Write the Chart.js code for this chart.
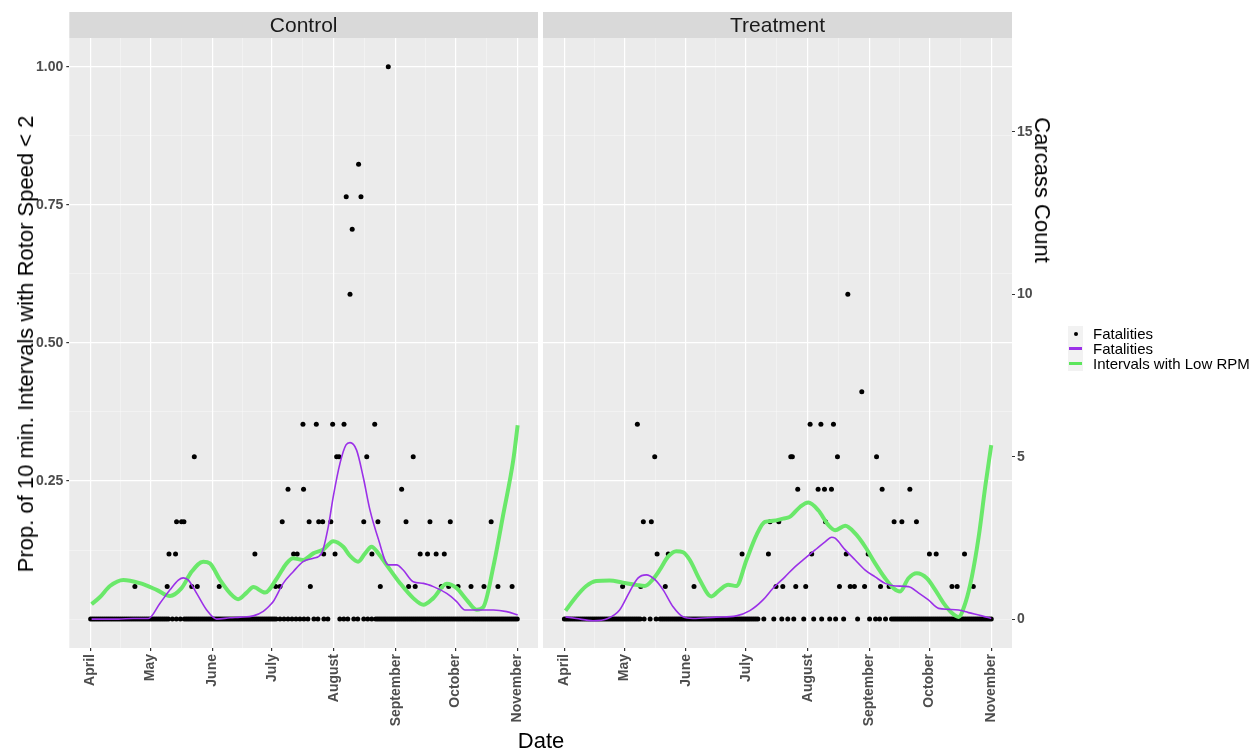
<!DOCTYPE html>
<html>
<head>
<meta charset="utf-8">
<script src="https://cdn.jsdelivr.net/npm/chart.js@4.4.1/dist/chart.umd.min.js"></script>
<style>
  body { margin: 0; background: #fff; width: 1257px; height: 751px; position: relative; overflow: hidden;
         font-family: "Liberation Sans", Arial, sans-serif; }
  canvas { position: absolute; left: 0; top: 0; }
  .axis-title { position: absolute; white-space: nowrap; font-size: 22px; color: #000; line-height: 1; }
  #legend { position: absolute; left: 1068px; top: 326px; font-size: 15px; color: #000; }
  #legend .row { height: 15px; line-height: 15px; display: flex; align-items: center; }
  #legend .key { width: 15px; height: 15px; background: #F2F2F2; margin-right: 10px; position: relative; }
  #legend .dot { position: absolute; left: 6px; top: 6px; width: 4px; height: 4px; border-radius: 50%; background: #000; }
  #legend .ln { position: absolute; left: 1px; top: 6px; width: 13px; height: 3px; }
</style>
</head>
<body>
<canvas id="control" width="1257" height="751"></canvas>
<canvas id="treatment" width="1257" height="751"></canvas>

<div class="axis-title" style="left:26px;top:344px;transform:translate(-50%,-50%) rotate(-90deg);">Prop. of 10 min. Intervals with Rotor Speed &lt; 2</div>
<div class="axis-title" style="left:1042px;top:190px;transform:translate(-50%,-50%) rotate(90deg);">Carcass Count</div>
<div class="axis-title" style="left:541px;top:741px;transform:translate(-50%,-50%);">Date</div>

<div id="legend">
  <div class="row"><span class="key"><i class="dot"></i></span>Fatalities</div>
  <div class="row"><span class="key"><i class="ln" style="background:#9B30E8"></i></span>Fatalities</div>
  <div class="row"><span class="key"><i class="ln" style="background:#5CE65C"></i></span>Intervals with Low RPM</div>
</div>

<script>
// x axis is day of year
const monthNames = ["April", "May", "June", "July", "August", "September", "October", "November"];
const monthDays = [91, 121, 152, 182, 213, 244, 274, 305];
const midMonthDays = [106, 136.5, 167, 197.5, 228.5, 259, 289.5];

const propTicks = [0, 0.125, 0.25, 0.375, 0.5, 0.625, 0.75, 0.875, 1];
const propLabels = { 0.25: "0.25", 0.5: "0.50", 0.75: "0.75", 1: "1.00" };
const countTicks = [0, 5, 10, 15];

// ---- Control ----
const controlPtDays = [113.2, 129.4, 130.3, 133.6, 134.1, 136.6, 137.8, 141.7, 143, 144.5, 155.5, 173.4,
  183.8, 186, 187.1, 190, 192.8, 194.6, 197.5, 197.8, 200.6, 201.2, 204.2, 205.4, 207.4, 207.9, 211.5,
  212.4, 213.6, 214.4, 215.6, 218.1, 219.2, 221.1, 222.2, 225.4, 226.6, 228, 229.5, 232.1, 233.5, 235.1,
  236.3, 240.3, 247, 249.2, 250.5, 252.8, 253.8, 256.3, 260, 261.2, 264.3, 266.9, 268.4, 270.6, 271.4,
  275.3, 281.8, 288.3, 291.9, 295.3, 302.4];
const controlPtCounts = [1, 1, 2, 2, 3, 3, 3, 1, 5, 1, 1, 2,
  1, 1, 3, 4, 2, 2, 6, 4, 3, 1, 6, 3, 3, 2, 3,
  6, 2, 5, 5, 6, 13, 10, 12, 14, 13, 3, 5, 2, 6, 3,
  1, 17, 4, 3, 1, 5, 1, 2, 2, 3, 2, 1, 2, 1, 3,
  1, 1, 1, 3, 1, 1];
const controlZeroDays = [91, 92, 93, 94, 95, 96, 97, 98, 99, 100, 101, 102, 103, 104, 105, 106, 107, 108, 109,
  110, 111, 112, 113, 114, 115, 116, 117, 118, 119, 120, 121, 122, 123, 124, 125, 126, 127, 128, 129, 130,
  132, 134, 136,
  138, 139, 140, 141, 142, 143, 144, 145, 146, 147, 148, 149, 150, 151, 152, 153, 154, 155, 156, 157, 158,
  159, 160, 161, 162, 163, 164, 165, 166, 167, 168, 169, 170, 171, 172, 173, 174, 175, 176, 177, 178, 179,
  180, 181, 182, 183, 184,
  186, 188, 190, 192, 194, 196, 198, 200, 203, 205, 208, 210, 216, 218, 220, 223, 225, 228, 230, 232,
  234, 235, 236, 237, 238, 239, 240, 241, 242, 243, 244, 245, 246, 247, 248, 249, 250, 251, 252, 253, 254,
  255, 256, 257, 258, 259, 260, 261, 262, 263, 264, 265, 266, 267, 268, 269, 270, 271, 272, 273, 274, 275,
  276, 277, 278, 279, 280, 281, 282, 283, 284, 285, 286, 287, 288, 289, 290, 291, 292, 293, 294, 295, 296,
  297, 298, 299, 300, 301, 302, 303, 304, 305];
const controlSmoothDays = [91.5, 105, 112.4, 119.9, 125.8, 130.8, 135, 137.5, 140, 144.2, 149.2, 154.2, 160.9,
  166, 172.6, 177.6, 181, 182.6, 187.6, 192.6, 197.6, 202.7, 206.9, 210.2, 212.7, 216.1, 219.1, 221.1, 224.4,
  227.7, 231.1, 235.2, 240.3, 244.5, 247.8, 252.8, 257.9, 262.9, 269.6, 274.6, 278.8, 284.6, 293, 299.7, 305.2];
const controlSmoothCounts = [0, 0, 0.02, 0.02, 0.49, 0.9, 1.2, 1.27, 1.2, 0.79, 0.28, 0, 0.04,
  0.06, 0.1, 0.24, 0.43, 0.54, 1.1, 1.46, 1.77, 1.87, 2.03, 2.84, 3.77, 4.8, 5.36, 5.43, 5.2,
  4.38, 3.36, 2.49, 1.67, 1.67, 1.51, 1.15, 1.1, 1.0, 0.79, 0.54, 0.28, 0.28, 0.28, 0.23, 0.13];
const controlRpmDays = [91.5, 95.7, 100.7, 107.4, 115.7, 124.1, 130.8, 136.6, 141.7, 147.5, 150.8, 155.9, 160.9,
  165, 169.3, 172.6, 178.5, 184.3, 189.3, 192.6, 197.6, 202.7, 207.7, 212.7, 217.7, 221, 225.2, 228.5, 231.9,
  235.5, 239.5, 246.2, 252.8, 257.9, 262.9, 269.6, 274.6, 279.6, 284.6, 288, 293, 298, 303, 305.2];
const controlRpmProps = [0.027, 0.04, 0.06, 0.071, 0.065, 0.053, 0.042, 0.056, 0.086, 0.104, 0.101, 0.071, 0.047,
  0.036, 0.048, 0.058, 0.048, 0.073, 0.101, 0.11, 0.107, 0.119, 0.126, 0.141, 0.131, 0.115, 0.104, 0.118, 0.131,
  0.118, 0.098, 0.065, 0.038, 0.026, 0.038, 0.064, 0.056, 0.035, 0.017, 0.022, 0.095, 0.19, 0.288, 0.351];

// ---- Treatment ----
const treatPtDays = [120.2, 127.6, 129.3, 130.6, 134.6, 136.3, 137.5, 141.6, 143.1, 156, 180.1, 193.3, 194.1,
  197.1, 198.5, 200.5, 204.5, 205.3, 207, 208, 212, 214.2, 215, 218.2, 219.6, 221.4, 221.9, 224.9, 225.9,
  227.9, 228.9, 232.3, 233.1, 234.3, 236.4, 240.1, 241.5, 243.3, 247.5, 249.5, 250.3, 253.8, 256.3, 260.2,
  264.2, 267.5, 274, 277.4, 285.3, 287.9, 291.6, 296];
const treatPtCounts = [1, 6, 1, 3, 3, 5, 2, 1, 2, 1, 2, 2, 3,
  1, 3, 1, 5, 5, 1, 4, 1, 6, 2, 4, 6, 4, 3, 4, 6,
  5, 1, 2, 10, 1, 1, 7, 1, 2, 5, 1, 4, 1, 3, 3,
  4, 3, 2, 2, 1, 1, 2, 1];
const treatZeroDays = [91, 92, 93, 94, 95, 96, 97, 98, 99, 100, 101, 102, 103, 104, 105, 106, 107, 108, 109,
  110, 111, 112, 113, 114, 115, 116, 117, 118, 119, 120, 121, 122, 123, 124, 125, 126, 127, 128, 129,
  131, 134, 137, 139,
  140, 141, 142, 143, 144, 145, 146, 147, 148, 149, 150, 151, 152, 153, 154, 155, 156, 157, 158, 159, 160,
  161, 162, 163, 164, 165, 166, 167, 168, 169, 170, 171, 172, 173, 174, 175, 176, 177, 178, 179, 180, 181,
  182, 183, 184, 185, 186, 187, 188,
  191, 196, 200, 203, 206, 211, 216, 220, 224, 227, 231, 238, 244, 247, 249, 252, 255,
  256, 257, 258, 259, 260, 261, 262, 263, 264, 265, 266, 267, 268, 269, 270, 271, 272, 273, 274, 275, 276,
  277, 278, 279, 280, 281, 282, 283, 284, 285, 286, 287, 288, 289, 290, 291, 292, 293, 294, 295, 296, 297,
  298, 299, 300, 301, 302, 303, 304, 305];
const treatSmoothDays = [91.6, 97, 105.3, 112.8, 118.7, 123.7, 127.9, 132.1, 136.3, 140.5, 145.5, 150.5, 155.5,
  167.2, 177.2, 184, 190.6, 195.6, 201.6, 206.6, 211.6, 216.7, 221.7, 225, 226.7, 231.8, 236.8, 241.8, 246.8,
  251.8, 256.8, 263.5, 268.5, 273.5, 278.6, 283.6, 288.6, 293.6, 300.3, 305];
const treatSmoothCounts = [0.07, 0.02, -0.05, 0.02, 0.28, 0.84, 1.26, 1.36, 1.22, 0.9, 0.38, 0.07, 0.02,
  0.06, 0.1, 0.26, 0.59, 0.95, 1.3, 1.61, 1.87, 2.13, 2.38, 2.52, 2.49, 2.13, 1.82, 1.51, 1.3,
  1.1, 1.02, 1.0, 0.81, 0.59, 0.33, 0.3, 0.28, 0.2, 0.1, 0.02];
const treatRpmDays = [91.6, 97, 102, 107, 113.7, 120.4, 127.1, 131.3, 135.4, 138.8, 143, 147.1, 150.5, 153.9,
  158.9, 164.7, 168.9, 173.1, 177.2, 182.3, 187.3, 191.5, 195.6, 200.7, 204, 209.1, 213.3, 218.3, 223.4,
  226.7, 231.8, 236.8, 241.8, 246.8, 251.8, 256, 259.3, 263.5, 267.7, 272.7, 276.9, 281.1, 285.3, 288.6,
  292, 295.3, 298.7, 302, 305];
const treatRpmProps = [0.015, 0.041, 0.06, 0.069, 0.07, 0.066, 0.062, 0.06, 0.072, 0.089, 0.113, 0.123, 0.121, 0.107,
  0.071, 0.041, 0.053, 0.062, 0.06, 0.107, 0.152, 0.176, 0.178, 0.182, 0.185, 0.203, 0.211, 0.197, 0.17,
  0.161, 0.169, 0.155, 0.131, 0.101, 0.074, 0.056, 0.05, 0.074, 0.083, 0.074, 0.053, 0.029, 0.011, 0.004,
  0.029, 0.077, 0.149, 0.24, 0.315];

// panel ranges (the count axis is the prop axis times 17)
const X_MIN = 80.3, X_MAX = 315.4;
const PROP_MIN = -0.0523, PROP_MAX = 1.052;
const COUNT_SCALE = 17;

const FONT = '"Liberation Sans", Arial, sans-serif';
const tickFont = { family: FONT, size: 14, weight: "bold" };

function isMonth(v) { return monthDays.indexOf(v) >= 0; }
function isMajorProp(v) { return propLabels[v] !== undefined; }

function toXY(xs, ys) {
  return xs.map(function (x, i) { return { x: x, y: ys[i] }; });
}

// grey panel + facet strip on top
const facetPanel = {
  id: "facetPanel",
  beforeDraw(chart, args, opts) {
    const ctx = chart.ctx;
    const a = chart.chartArea;
    ctx.save();
    ctx.fillStyle = "#EBEBEB";
    ctx.fillRect(a.left, a.top, a.right - a.left, a.bottom - a.top);
    ctx.fillStyle = "#D9D9D9";
    ctx.fillRect(a.left, 12, a.right - a.left, a.top - 12);
    ctx.fillStyle = "#1A1A1A";
    ctx.font = "21px " + FONT;
    ctx.textAlign = "center";
    ctx.textBaseline = "middle";
    ctx.fillText(opts.label, (a.left + a.right) / 2, (12 + a.top) / 2 + 1);
    ctx.restore();
  }
};

function makeFacet(canvasId, label, side, ptDays, ptCounts, zeroDays, smDays, smCounts, rpmDays, rpmProps) {
  const leftPanel = side === "left";
  const points = toXY(zeroDays, zeroDays.map(function () { return 0; })).concat(toXY(ptDays, ptCounts));

  const scales = {
    x: {
      type: "linear", min: X_MIN, max: X_MAX, position: "bottom",
      afterBuildTicks: function (s) {
        s.ticks = monthDays.concat(midMonthDays).sort(function (a, b) { return a - b; })
          .map(function (v) { return { value: v }; });
      },
      afterFit: function (s) { s.height = 103; },
      border: { display: false },
      grid: {
        color: function (c) { return c.tick && isMonth(c.tick.value) ? "#FFFFFF" : "rgba(255,255,255,0.6)"; },
        lineWidth: function (c) { return c.tick && isMonth(c.tick.value) ? 1.2 : 0.6; },
        tickColor: function (c) { return c.tick && isMonth(c.tick.value) ? "#333333" : "rgba(0,0,0,0)"; },
        tickLength: 3
      },
      ticks: {
        autoSkip: false, minRotation: 90, maxRotation: 90, padding: 3,
        color: "#4D4D4D", font: tickFont,
        callback: function (v) { const i = monthDays.indexOf(v); return i >= 0 ? monthNames[i] : ""; }
      }
    },
    yProp: {
      type: "linear", position: "left", min: PROP_MIN, max: PROP_MAX,
      afterBuildTicks: function (s) { s.ticks = propTicks.map(function (v) { return { value: v }; }); },
      afterFit: function (s) { s.width = leftPanel ? 69.3 : 0; },
      border: { display: false },
      grid: {
        color: function (c) { return c.tick && isMajorProp(c.tick.value) ? "#FFFFFF" : "rgba(255,255,255,0.6)"; },
        lineWidth: function (c) { return c.tick && isMajorProp(c.tick.value) ? 1.2 : 0.6; },
        tickColor: function (c) { return c.tick && isMajorProp(c.tick.value) ? "#333333" : "rgba(0,0,0,0)"; },
        tickLength: 3,
        drawTicks: leftPanel
      },
      ticks: {
        display: leftPanel, padding: 3, color: "#4D4D4D", font: tickFont,
        callback: function (v) { return propLabels[v] || ""; }
      }
    },
    yCount: {
      type: "linear", position: "right",
      min: PROP_MIN * COUNT_SCALE, max: PROP_MAX * COUNT_SCALE,
      display: !leftPanel,
      afterBuildTicks: function (s) { s.ticks = countTicks.map(function (v) { return { value: v }; }); },
      // the control panel keeps this axis hidden, so it must take no room
      afterFit: function (s) { s.width = leftPanel ? 0 : 245; },
      border: { display: false },
      grid: { drawOnChartArea: false, tickLength: 3, tickColor: "#333333" },
      ticks: { padding: 2, color: "#4D4D4D", font: tickFont }
    }
  };

  return new Chart(document.getElementById(canvasId), {
    type: "scatter",
    data: {
      datasets: [
        {
          label: "Fatalities",
          data: toXY(smDays, smCounts),
          yAxisID: "yCount",
          showLine: true,
          borderColor: "#9B30E8",
          borderWidth: 1.6,
          pointRadius: 0,
          cubicInterpolationMode: "monotone",
          order: 0
        },
        {
          label: "Intervals with Low RPM",
          data: toXY(rpmDays, rpmProps),
          yAxisID: "yProp",
          showLine: true,
          borderColor: "#6AE86A",
          borderWidth: 4,
          pointRadius: 0,
          cubicInterpolationMode: "monotone",
          order: 1
        },
        {
          label: "Fatalities",
          data: points,
          yAxisID: "yCount",
          pointRadius: 2.5,
          pointBackgroundColor: "#000000",
          pointBorderWidth: 0,
          order: 2
        }
      ]
    },
    options: {
      responsive: false,
      animation: false,
      events: [],
      layout: {
        padding: leftPanel
          ? { left: 0, top: 38, right: 1257 - 538, bottom: 0 }
          : { left: 543, top: 38, right: 0, bottom: 0 }
      },
      scales: scales,
      plugins: {
        legend: { display: false },
        tooltip: { enabled: false },
        facetPanel: { label: label }
      }
    },
    plugins: [facetPanel]
  });
}

makeFacet("control", "Control", "left", controlPtDays, controlPtCounts, controlZeroDays,
  controlSmoothDays, controlSmoothCounts, controlRpmDays, controlRpmProps);
makeFacet("treatment", "Treatment", "right", treatPtDays, treatPtCounts, treatZeroDays,
  treatSmoothDays, treatSmoothCounts, treatRpmDays, treatRpmProps);
</script>
</body>
</html>
